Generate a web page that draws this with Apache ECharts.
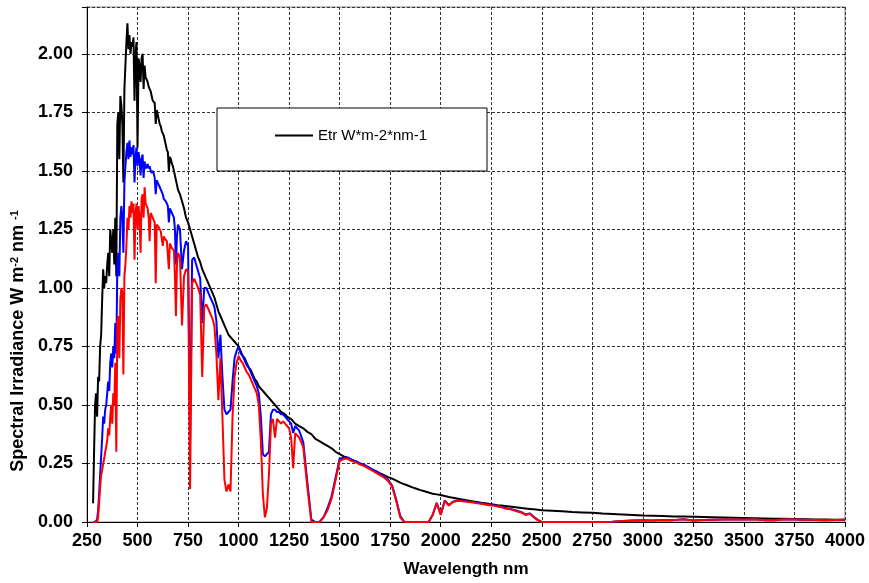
<!DOCTYPE html>
<html>
<head>
<meta charset="utf-8">
<script src="https://cdn.jsdelivr.net/npm/echarts@6/dist/echarts.min.js"></script>
<style>
  html, body { margin: 0; padding: 0; background: #fff; }
  #main { width: 869px; height: 583px; }
</style>
</head>
<body>
<div id="main"></div>
<script>
// wavelength grid (nm)
const wavelength = [
  280, 285, 290, 295, 300, 305, 310, 315, 320, 325,
  330, 335, 340, 345, 350, 355, 360, 365, 370, 375,
  380, 385, 390, 395, 400, 405, 410, 415, 420, 425,
  430, 435, 440, 445, 450, 455, 460, 465, 470, 475,
  480, 485, 490, 495, 500, 505, 510, 515, 520, 525,
  530, 535, 540, 545, 550, 555, 560, 565, 570, 575,
  580, 585, 590, 595, 600, 605, 610, 615, 620, 625,
  630, 635, 640, 645, 650, 655, 660, 665, 670, 675,
  680, 685, 690, 695, 700,
  710, 720, 730, 740, 750, 760, 770, 780, 790, 800,
  810, 820, 830, 840, 850, 860, 870, 880, 890, 900,
  910, 920, 930, 940, 950, 960, 970, 980, 990, 1000,
  1010, 1020, 1030, 1040, 1050, 1060, 1070, 1080, 1090, 1100,
  1110, 1120, 1130, 1140, 1150, 1160, 1170, 1180, 1190, 1200,
  1210, 1220, 1230, 1240, 1250, 1260, 1270, 1280, 1290, 1300,
  1320, 1340, 1360, 1380, 1400, 1420, 1440, 1460, 1480, 1500,
  1520, 1540, 1560, 1580, 1600, 1620, 1640, 1660, 1680, 1700,
  1720, 1740, 1760, 1780, 1800, 1820, 1840, 1860, 1880, 1900,
  1920, 1940, 1960, 1980, 2000, 2020, 2040, 2060, 2080, 2100,
  2120, 2140, 2160, 2180, 2200, 2220, 2240, 2260, 2280, 2300,
  2320, 2340, 2360, 2380, 2400, 2420, 2440, 2460, 2480, 2500,
  2550, 2600, 2650, 2700, 2750, 2800, 2850, 2900, 2950, 3000,
  3050, 3100, 3150, 3200, 3250, 3300, 3350, 3400, 3450, 3500,
  3550, 3600, 3650, 3700, 3750, 3800, 3850, 3900, 3950, 4000
]

// extraterrestrial (black)
const etr = [
  0.08, 0.30, 0.50, 0.55, 0.45, 0.62, 0.60, 0.75, 0.80, 0.95,
  1.08, 1.00, 1.05, 1.02, 1.10, 1.15, 1.05, 1.25, 1.20, 1.15,
  1.25, 1.10, 1.30, 1.05, 1.70, 1.75, 1.55, 1.82, 1.78, 1.70,
  1.45, 1.85, 1.95, 2.05, 2.13, 2.02, 2.08, 2.00, 2.05, 2.03,
  2.07, 1.80, 2.00, 2.05, 1.60, 1.98, 1.95, 1.88, 1.98, 2.00,
  1.85, 1.95, 1.90, 1.90, 1.88, 1.86, 1.86, 1.84, 1.82, 1.80,
  1.80, 1.79, 1.70, 1.76, 1.74, 1.72, 1.70, 1.69, 1.67, 1.66,
  1.65, 1.63, 1.61, 1.59, 1.58, 1.50, 1.56, 1.55, 1.53, 1.52,
  1.50, 1.48, 1.46, 1.44, 1.42,
  1.40, 1.37, 1.34, 1.30, 1.28, 1.25, 1.22, 1.19, 1.16, 1.13,
  1.11, 1.08, 1.06, 1.04, 1.02, 1.00, 0.98, 0.96, 0.93, 0.90,
  0.88, 0.86, 0.84, 0.82, 0.80, 0.79, 0.78, 0.77, 0.76, 0.75,
  0.73, 0.71, 0.70, 0.68, 0.66, 0.65, 0.63, 0.61, 0.60, 0.58,
  0.57, 0.56, 0.55, 0.54, 0.53, 0.52, 0.51, 0.50, 0.49, 0.48,
  0.47, 0.465, 0.46, 0.45, 0.445, 0.44, 0.43, 0.42, 0.415, 0.41,
  0.40, 0.385, 0.375, 0.355, 0.345, 0.335, 0.325, 0.315, 0.30, 0.29,
  0.28, 0.275, 0.265, 0.258, 0.25, 0.242, 0.233, 0.225, 0.217, 0.208,
  0.20, 0.192, 0.185, 0.177, 0.168, 0.161, 0.155, 0.148, 0.142, 0.136,
  0.131, 0.126, 0.121, 0.118, 0.115, 0.111, 0.107, 0.104, 0.100, 0.097,
  0.094, 0.091, 0.088, 0.085, 0.082, 0.080, 0.077, 0.075, 0.072, 0.070,
  0.068, 0.066, 0.064, 0.062, 0.060, 0.058, 0.056, 0.054, 0.052, 0.050,
  0.048, 0.046, 0.043, 0.041, 0.039, 0.036, 0.034, 0.032, 0.030, 0.028,
  0.027, 0.026, 0.024, 0.023, 0.022, 0.021, 0.020, 0.019, 0.018, 0.017,
  0.016, 0.015, 0.014, 0.014, 0.013, 0.012, 0.011, 0.011, 0.010, 0.010
]

// global tilt (blue)
const globalTilt = [
  0, 0, 0, 0, 0.01, 0.05, 0.12, 0.20, 0.28, 0.36,
  0.45, 0.42, 0.48, 0.50, 0.55, 0.60, 0.56, 0.68, 0.72, 0.66,
  0.75, 0.70, 0.85, 0.72, 1.10, 1.15, 1.05, 1.30, 1.35, 1.30,
  1.15, 1.45, 1.52, 1.58, 1.62, 1.55, 1.63, 1.56, 1.60, 1.57,
  1.61, 1.45, 1.56, 1.60, 1.52, 1.58, 1.55, 1.48, 1.55, 1.57,
  1.47, 1.54, 1.51, 1.52, 1.53, 1.51, 1.52, 1.50, 1.49, 1.50,
  1.49, 1.47, 1.40, 1.46, 1.45, 1.44, 1.43, 1.42, 1.41, 1.40,
  1.38, 1.38, 1.37, 1.36, 1.35, 1.28, 1.34, 1.33, 1.32, 1.31,
  1.30, 1.25, 1.10, 1.22, 1.27,
  1.25, 1.08, 1.16, 1.20, 1.18, 0.35, 1.12, 1.13, 1.10, 1.07,
  1.04, 0.85, 1.00, 1.00, 0.98, 0.96, 0.94, 0.92, 0.86, 0.70,
  0.80, 0.62, 0.48, 0.46, 0.47, 0.48, 0.60, 0.70, 0.73, 0.75,
  0.72, 0.71, 0.69, 0.67, 0.66, 0.64, 0.62, 0.60, 0.58, 0.55,
  0.45, 0.29, 0.28, 0.29, 0.30, 0.46, 0.48, 0.48, 0.47, 0.47,
  0.46, 0.46, 0.45, 0.44, 0.43, 0.42, 0.38, 0.41, 0.40, 0.39,
  0.34, 0.17, 0.01, 0, 0, 0.02, 0.06, 0.11, 0.19, 0.27,
  0.275, 0.275, 0.265, 0.26, 0.25, 0.245, 0.235, 0.225, 0.215, 0.205,
  0.195, 0.18, 0.155, 0.095, 0.025, 0, 0, 0, 0, 0,
  0, 0, 0.03, 0.082, 0.032, 0.092, 0.072, 0.087, 0.092, 0.092,
  0.09, 0.087, 0.085, 0.082, 0.08, 0.077, 0.074, 0.072, 0.068, 0.065,
  0.06, 0.057, 0.052, 0.047, 0.042, 0.032, 0.037, 0.022, 0.009, 0,
  0, 0, 0, 0, 0, 0, 0.001, 0.004, 0.006, 0.008,
  0.006, 0.009, 0.008, 0.012, 0.006, 0.009, 0.010, 0.011, 0.012, 0.011,
  0.012, 0.008, 0.007, 0.012, 0.011, 0.010, 0.009, 0.008, 0.009, 0.010
]

// direct + circumsolar (red)
const directSun = [
  0, 0, 0, 0, 0, 0.02, 0.08, 0.15, 0.20, 0.22,
  0.25, 0.27, 0.30, 0.32, 0.35, 0.40, 0.37, 0.45, 0.50, 0.42,
  0.55, 0.50, 0.68, 0.30, 0.85, 0.88, 0.70, 0.95, 1.00, 0.98,
  0.63, 1.05, 1.10, 1.18, 1.30, 1.25, 1.35, 1.30, 1.37, 1.32,
  1.36, 1.12, 1.32, 1.36, 1.25, 1.35, 1.30, 1.15, 1.38, 1.40,
  1.30, 1.43, 1.36, 1.35, 1.34, 1.30, 1.20, 1.32, 1.31, 1.30,
  1.29, 1.28, 1.02, 1.27, 1.27, 1.26, 1.25, 1.24, 1.24, 1.18,
  1.22, 1.21, 1.21, 1.20, 1.20, 1.08, 1.19, 1.18, 1.17, 1.17,
  1.16, 1.05, 0.88, 1.10, 1.15,
  1.13, 0.84, 1.05, 1.08, 1.07, 0.14, 1.02, 1.04, 1.02, 1.00,
  0.97, 0.62, 0.92, 0.93, 0.91, 0.89, 0.87, 0.84, 0.72, 0.52,
  0.70, 0.45, 0.18, 0.13, 0.16, 0.13, 0.45, 0.62, 0.68, 0.71,
  0.69, 0.68, 0.66, 0.64, 0.63, 0.61, 0.59, 0.57, 0.55, 0.50,
  0.35, 0.12, 0.02, 0.06, 0.20, 0.42, 0.44, 0.36, 0.44, 0.43,
  0.42, 0.43, 0.42, 0.41, 0.40, 0.36, 0.23, 0.38, 0.37, 0.36,
  0.32, 0.15, 0, 0, 0, 0.02, 0.05, 0.10, 0.18, 0.26,
  0.27, 0.27, 0.26, 0.255, 0.245, 0.24, 0.23, 0.22, 0.21, 0.20,
  0.19, 0.175, 0.15, 0.09, 0.02, 0, 0, 0, 0, 0,
  0, 0, 0.03, 0.08, 0.03, 0.09, 0.07, 0.085, 0.09, 0.09,
  0.088, 0.085, 0.083, 0.08, 0.078, 0.075, 0.072, 0.07, 0.066, 0.063,
  0.058, 0.055, 0.05, 0.045, 0.04, 0.03, 0.035, 0.02, 0.008, 0,
  0, 0, 0, 0, 0, 0, 0.001, 0.004, 0.006, 0.008,
  0.006, 0.009, 0.008, 0.012, 0.006, 0.009, 0.010, 0.011, 0.012, 0.011,
  0.012, 0.008, 0.007, 0.012, 0.011, 0.010, 0.009, 0.008, 0.009, 0.010
]

const xTicks = { min: 250, max: 4000, step: 250 }
const yTicks = { min: 0, max: 2.2, step: 0.25 }

const pairs = vals => wavelength.map((w, i) => [w, vals[i]])
const font = 'Liberation Sans, Arial, sans-serif'

const chart = echarts.init(document.getElementById('main'))
chart.setOption({
  animation: false,
  backgroundColor: '#fff',
  grid: {
    left: 87, right: 24, top: 7, bottom: 59,
    show: true,
    borderColor: '#888',
    borderWidth: 1
  },
  legend: {
    data: ['Etr W*m-2*nm-1'],
    left: 270,
    top: 123,
    z: 10,
    icon: 'rect',
    itemWidth: 38,
    itemHeight: 2,
    itemStyle: { color: '#000' },
    textStyle: { fontFamily: font, fontSize: 15, color: '#000' }
  },
  graphic: [
    {
      type: 'rect',
      z: 9,
      shape: { x: 217, y: 108, width: 270, height: 63 },
      style: { fill: '#fff', stroke: '#000', lineWidth: 1 }
    },
    {
      type: 'text',
      x: 18,
      y: 341,
      rotation: Math.PI / 2,
      style: {
        text: 'Spectral Irradiance W m{sup|-2} nm {sup|-1}',
        fontFamily: font,
        fontSize: 18,
        fontWeight: 'bold',
        fill: '#000',
        align: 'center',
        verticalAlign: 'middle',
        rich: {
          sup: { fontSize: 11, fontWeight: 'bold', fontFamily: font, verticalAlign: 'top' }
        }
      }
    }
  ],
  xAxis: {
    type: 'value',
    min: xTicks.min,
    max: xTicks.max,
    interval: xTicks.step,
    name: 'Wavelength nm',
    nameLocation: 'middle',
    nameGap: 39,
    nameTextStyle: { fontFamily: font, fontSize: 17, fontWeight: 'bold', color: '#000' },
    axisLine: { lineStyle: { color: '#000', width: 1 } },
    axisTick: { length: 5, lineStyle: { color: '#000' } },
    axisLabel: {
      fontFamily: font, fontSize: 18, fontWeight: 'bold', color: '#000', margin: 10,
      formatter: v => String(v)
    },
    splitLine: { show: true, lineStyle: { color: '#333', type: [3, 2], width: 1 } }
  },
  yAxis: {
    type: 'value',
    min: yTicks.min,
    max: yTicks.max,
    interval: yTicks.step,
    axisLine: { show: true, lineStyle: { color: '#000', width: 1 } },
    axisTick: { show: true, length: 5, lineStyle: { color: '#000' } },
    axisLabel: {
      fontFamily: font, fontSize: 18, fontWeight: 'bold', color: '#000', margin: 14,
      formatter: v => (v > 2.15 ? '' : v.toFixed(2))
    },
    splitLine: { show: true, lineStyle: { color: '#333', type: [3, 2], width: 1 } }
  },
  series: [
    {
      name: 'Etr W*m-2*nm-1',
      type: 'line',
      data: pairs(etr),
      symbol: 'none',
      lineStyle: { color: '#000', width: 2 },
      itemStyle: { color: '#000' }
    },
    {
      name: 'Global tilt',
      type: 'line',
      data: pairs(globalTilt),
      symbol: 'none',
      lineStyle: { color: '#0000ff', width: 2 },
      itemStyle: { color: '#0000ff' }
    },
    {
      name: 'Direct+circumsolar',
      type: 'line',
      data: pairs(directSun),
      symbol: 'none',
      lineStyle: { color: '#ff0000', width: 2 },
      itemStyle: { color: '#ff0000' }
    }
  ]
})
</script>
</body>
</html>
